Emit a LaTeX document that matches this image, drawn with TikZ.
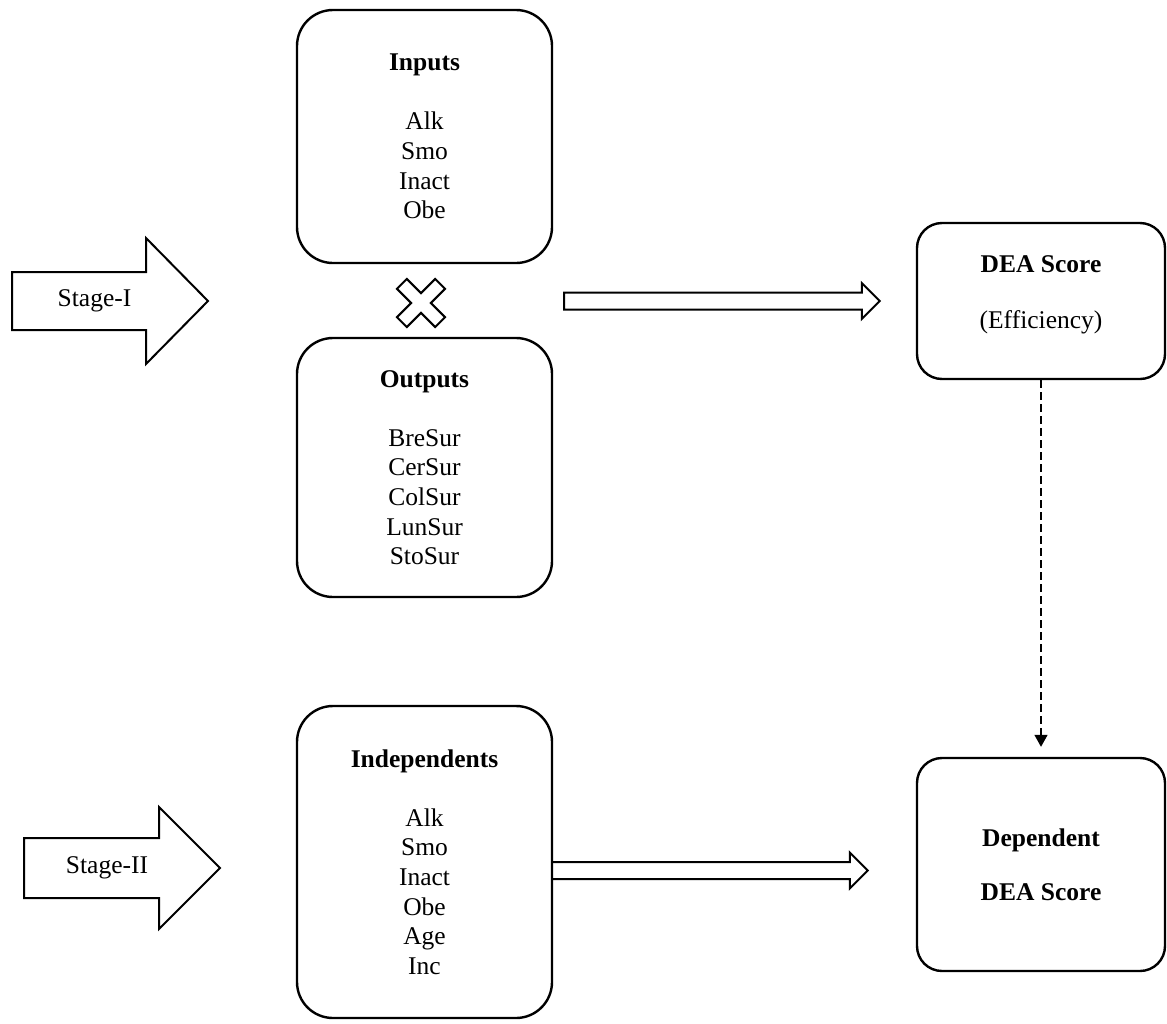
\documentclass[tikz,border=0pt]{standalone}
\usepackage{fontspec}
\setmainfont{Liberation Serif}
\usetikzlibrary{positioning,arrows.meta,calc}
\newcommand\mainsize{\fontsize{12.75pt}{14.8pt}\selectfont}
\tikzset{
  panel/.style={draw, line width=1.2pt, rounded corners=18pt, align=center, minimum width=127.5pt, font=\mainsize},
  scorebox/.style={draw, line width=1.2pt, rounded corners=12.5pt, align=center, minimum width=124pt, font=\mainsize\bfseries},
  stagearrow/.style={draw, line width=1pt, line join=miter},
  blockarrow/.style={draw, line width=1pt, line join=miter},
  dashflow/.style={-{Triangle[length=6pt,width=6.5pt]}, dash pattern=on 4pt off 2pt, line width=0.75pt, shorten >=5pt}
}

\begin{document}
\begin{tikzpicture}[x=0.5pt, y=-0.5pt]
  \useasboundingbox (0,0) rectangle (1167,1023);

  % stage labels
  \draw[stagearrow] (12,272) -- (146,272) -- (146,238) -- (208,301) -- (146,364) -- (146,330) -- (12,330) -- cycle;
  \node[font=\mainsize] (stageone) at (94.5,301) {Stage-I};
  \draw[stagearrow] (24,838) -- (159,838) -- (159,807) -- (220,868) -- (159,929) -- (159,898) -- (24,898) -- cycle;
  \node[font=\mainsize] (stagetwo) at (107,868) {Stage-II};

  % variable boxes
  \node[panel, minimum height=126.5pt] (inputs) at (424.5,136.5) {\textbf{Inputs}\\[14.8pt]Alk\\Smo\\Inact\\Obe};
  \node[panel, minimum height=129.5pt] (outputs) at (424.5,467.5) {\textbf{Outputs}\\[14.8pt]BreSur\\CerSur\\ColSur\\LunSur\\StoSur};
  \node[panel, minimum height=156pt] (indep) at (424.5,862) {\textbf{Independents}\\[14.8pt]Alk\\Smo\\Inact\\Obe\\Age\\Inc};

  % score boxes
  \node[scorebox, minimum height=78pt, text depth=9pt] (dea) at (1041,301) {DEA Score\\[13.2pt]\mdseries(Efficiency)};
  \node[scorebox, minimum height=106.5pt] (dep) at (1041,864.5) {Dependent\\[12.2pt]DEA Score};

  % cross between inputs and outputs
  \coordinate (times) at (421,303);
  \begin{scope}[shift={(times)}, rotate=45]
    \draw[line width=1pt, line join=miter] (7,27) -- (7,7) -- (27,7) -- (27,-7) -- (7,-7) -- (7,-27) -- (-7,-27) -- (-7,-7) -- (-27,-7) -- (-27,7) -- (-7,7) -- (-7,27) -- cycle;
  \end{scope}

  % hollow flow arrows
  \coordinate (flowA) at ($(inputs.east |- dea.west)+(11,0)$);
  \coordinate (flowB) at ($(dea.west)+(-36,0)$);
  \draw[blockarrow] ($(flowA)+(0,-8.5)$) -- ($(flowB)+(-18,-8.5)$) -- ($(flowB)+(-18,-18)$) -- (flowB)
    -- ($(flowB)+(-18,18)$) -- ($(flowB)+(-18,8.5)$) -- ($(flowA)+(0,8.5)$) -- cycle;

  \coordinate (flowC) at ($(indep.east |- dep.west)+(0,6)$);
  \coordinate (flowD) at ($(dep.west)+(-48,6)$);
  \draw[blockarrow] ($(flowC)+(0,-8.5)$) -- ($(flowD)+(-18,-8.5)$) -- ($(flowD)+(-18,-18)$) -- (flowD)
    -- ($(flowD)+(-18,18)$) -- ($(flowD)+(-18,8.5)$) -- ($(flowC)+(0,8.5)$);

  % dashed link
  \draw[dashflow] (dea.south) -- (dep.north);
\end{tikzpicture}
\end{document}
